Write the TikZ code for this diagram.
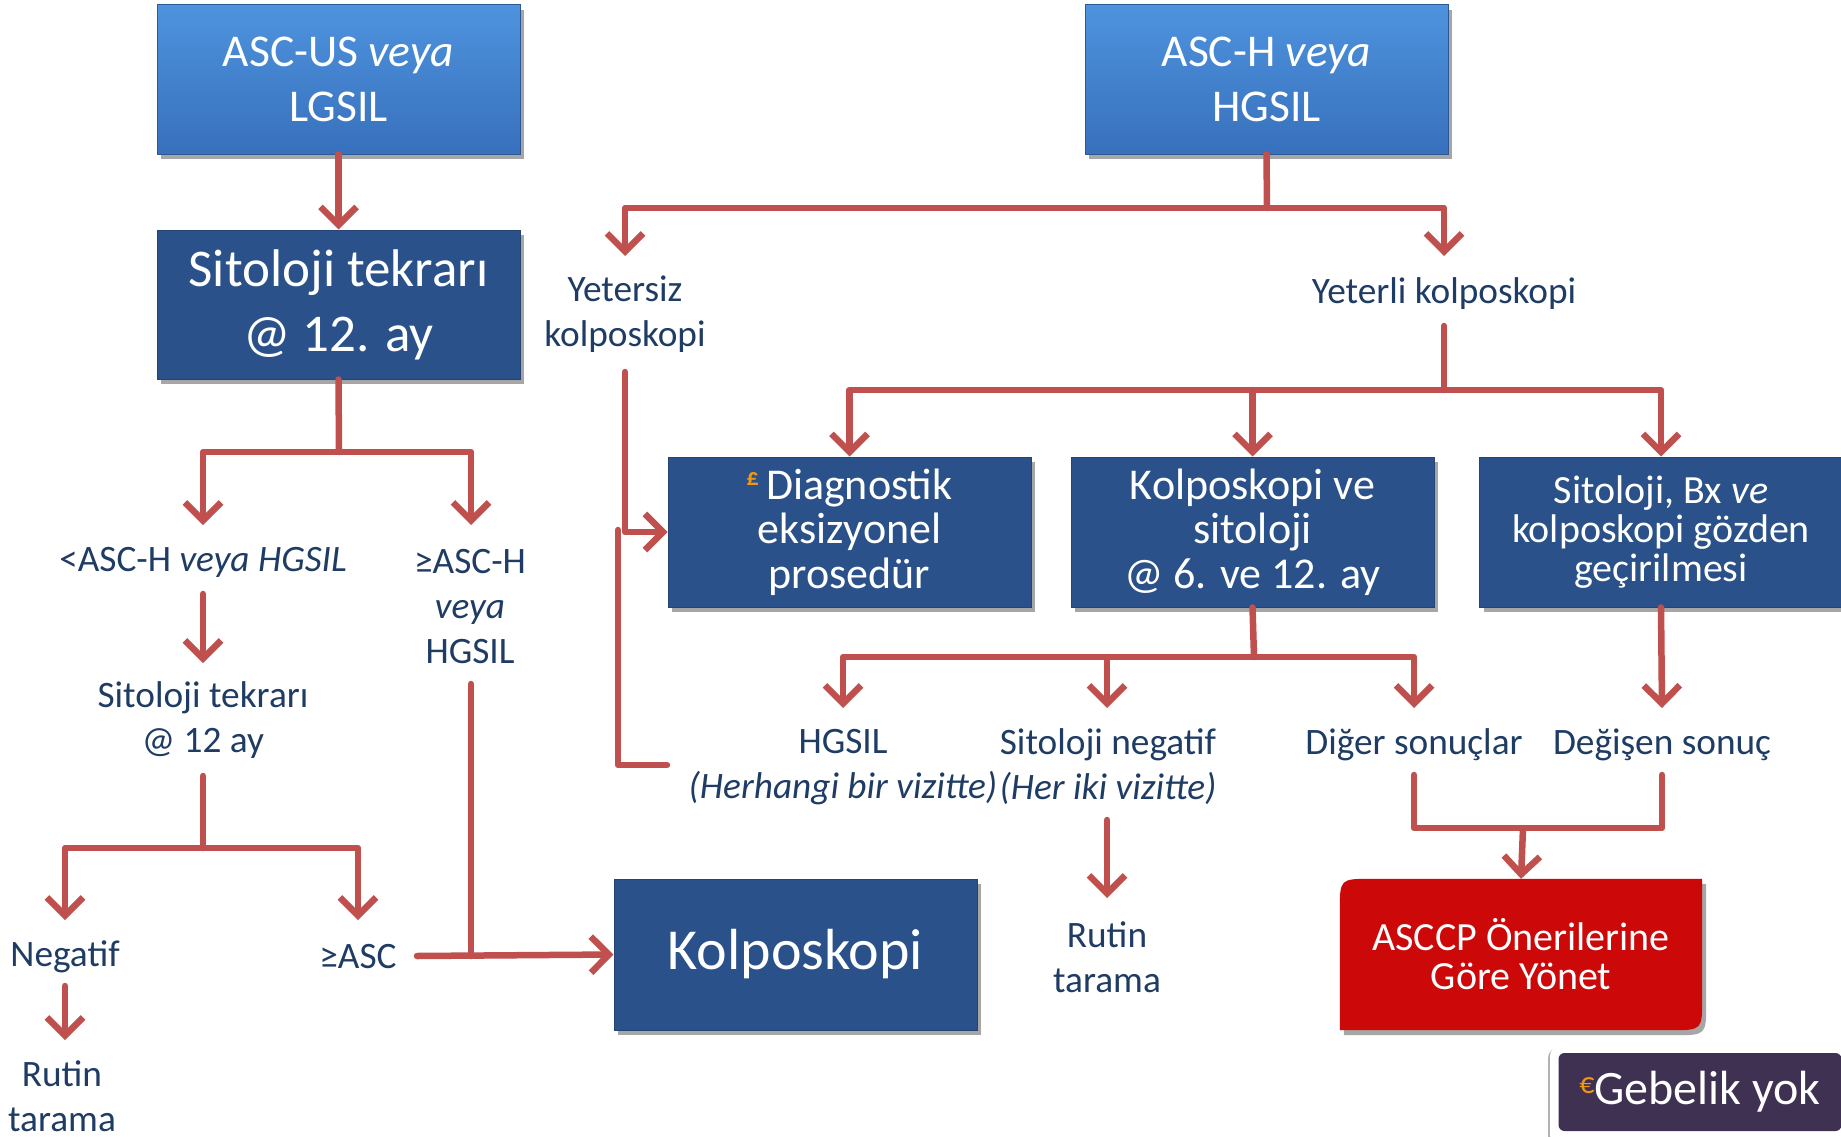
\documentclass[tikz,border=0pt]{standalone}
\usepackage{fontspec}
\setmainfont{Carlito}
\usetikzlibrary{arrows.meta,shadows,backgrounds,calc}

\definecolor{arrowred}{HTML}{C0504D}
\definecolor{navytext}{HTML}{1F3C64}
\definecolor{boxdark}{HTML}{2A5189}
\definecolor{boxlighttop}{HTML}{4E93DE}
\definecolor{boxlightbot}{HTML}{3870BC}
\definecolor{alertred}{HTML}{CC0808}
\definecolor{notepurple}{HTML}{3F3152}
\definecolor{markorange}{HTML}{F0960F}

\tikzset{
  boxshadow/.style={drop shadow={shadow xshift=4pt,shadow yshift=-5pt,opacity=.35,fill=black}},
  lightbox/.style={boxshadow,top color=boxlighttop,bottom color=boxlightbot,
    draw=boxlightbot!80!black,line width=1pt,text=white,align=center,
    minimum width=363pt,minimum height=149pt,inner sep=0pt,
    font=\fontsize{45.5pt}{55pt}\selectfont},
  darkbox/.style={boxshadow,fill=boxdark,draw=boxdark!85!black,line width=1pt,
    text=white,align=center,minimum width=363pt,minimum height=150pt,inner sep=0pt,
    font=\fontsize{44pt}{44.5pt}\selectfont},
  lbl/.style={text=navytext,align=center,inner sep=0pt,
    font=\fontsize{37.3pt}{45pt}\selectfont},
  link/.style={draw=arrowred,line width=6.5pt,line cap=round,line join=round},
  arr/.style={link,-{Straight Barb[length=18pt,width=36pt]}}
}

\begin{document}
\begin{tikzpicture}[x=1pt,y=-1pt]
\useasboundingbox (0,0) rectangle (1841,1137);

% ---- boxes ----
\node[lightbox] (ascus) at (338.5,79.5) {ASC-US \textit{veya}\\LGSIL};
\node[lightbox] (asch)  at (1266.5,79.5) {ASC-H \textit{veya}\\HGSIL};
\node[darkbox,minimum height=149pt,font=\fontsize{53pt}{65pt}\selectfont]
  (sitrep) at (338.5,304.5) {Sitoloji tekrarı\\@ 12. ay};
\node[darkbox] (diag) at (849.5,532)
  {{\fontsize{24pt}{24pt}\selectfont\raisebox{14pt}{\textcolor{markorange}{\bfseries £}}}\,Diagnostik\\eksizyonel\\prosedür};
\node[darkbox] (kvs) at (1252.5,532) {Kolposkopi ve\\sitoloji\\@ 6. ve 12. ay};
\node[darkbox,font=\fontsize{40pt}{39pt}\selectfont] (sbx) at (1661,532)
  {Sitoloji, Bx \textit{ve}\\kolposkopi gözden\\geçirilmesi};
\node[darkbox,minimum height=151pt,font=\fontsize{58pt}{66pt}\selectfont]
  (kolp) at (795.5,954.5) {Kolposkopi};

% red management box with two rounded corners
\node[text=white,align=center,minimum width=362pt,minimum height=151pt,inner sep=0pt,
  font=\fontsize{40pt}{39pt}\selectfont] (asccp) at (1521,954.5)
  {ASCCP Önerilerine\\Göre Yönet};
\begin{pgfonlayer}{background}
\fill[white] (0,0) rectangle (1841,1137);
\fill[alertred,boxshadow]
  ($(asccp.south west)$) -- ($(asccp.north west)+(0,32)$)
  .. controls ($(asccp.north west)$) .. ($(asccp.north west)+(32,0)$)
  -- (asccp.north east) -- ($(asccp.south east)+(0,-32)$)
  .. controls (asccp.south east) .. ($(asccp.south east)+(-32,0)$) -- cycle;
\end{pgfonlayer}

% footnote tag
\fill[white,rounded corners=10pt,drop shadow={shadow xshift=-2pt,shadow yshift=-2pt,opacity=.3,fill=black}]
  (1550,1046) rectangle (1850,1145);
\node[fill=notepurple,rounded corners=6pt,minimum width=283pt,minimum height=78pt,
  text=white,inner sep=0pt,font=\fontsize{48pt}{50pt}\selectfont]
  (note) at (1700,1092) {\raisebox{11pt}{\fontsize{30pt}{30pt}\selectfont\textcolor{markorange}{€}}Gebelik yok};

% ---- labels ----
\node[lbl] (yetersiz) at (625,314) {Yetersiz\\kolposkopi};
\node[lbl] (yeterli)  at (1444,294) {Yeterli kolposkopi};
\node[lbl] (ltasch)   at (203,562) {<ASC-H \textit{veya HGSIL}};
\node[lbl] (geasch)   at (470,607) {≥ASC-H\\\textit{veya}\\HGSIL};
\node[lbl] (sit12)    at (203,720) {Sitoloji tekrarı\\@ 12 ay};
\node[lbl] (negatif)  at (65,957) {Negatif};
\node[lbl] (geasc)    at (358,957) {≥ASC};
\node[lbl] (rutinA)   at (62,1096) {Rutin\\tarama};
\node[lbl] (hgsil)    at (843,767) {HGSIL\\\textit{(Herhangi bir vizitte)}};
\node[lbl] (sitneg)   at (1108,767) {Sitoloji negatif\\\textit{(Her iki vizitte)}};
\node[lbl] (diger)    at (1414,745) {Diğer sonuçlar};
\node[lbl] (degisen)  at (1662,745) {Değişen sonuç};
\node[lbl] (rutinB)   at (1107,957) {Rutin\\tarama};

% ---- junction and end points ----
\coordinate (jASCH)   at (1267,208);
\coordinate (inYetsz) at (625,256);
\coordinate (inYetrl) at (1444,256);
\coordinate (outYetsz) at (625,372);
\coordinate (outYetrl) at (1444,326);
\coordinate (jYetrl)  at (1444,390);
\coordinate (jSit)    at (339,452);
\coordinate (inLt)    at (203,525);
\coordinate (inGe)    at (471,525);
\coordinate (outLt)   at (203,594);
\coordinate (inSit12) at (203,663);
\coordinate (outSit12) at (203,776);
\coordinate (jSit12)  at (203,848);
\coordinate (inNeg)   at (65,920);
\coordinate (inGeasc) at (358,920);
\coordinate (outNeg)  at (65,986);
\coordinate (inRutA)  at (65,1040);
\coordinate (outGeasc) at (417,956);
\coordinate (outGeH)  at (471,684);
\coordinate (mergeGeH) at (471,956);
\coordinate (jKvs)    at (1254,657);
\coordinate (inHgsil) at (843,708);
\coordinate (inSitneg) at (1107,708);
\coordinate (inDiger) at (1414,708);
\coordinate (inDegis) at (1662,708);
\coordinate (outSitneg) at (1107,820);
\coordinate (inRutB)  at (1107,898);
\coordinate (outDiger) at (1414,775);
\coordinate (outDegis) at (1662,775);
\coordinate (jMerge)  at (1523,828);
\coordinate (outHgsil) at (667,765);
\coordinate (loopTop) at (618,530);

% ---- connectors ----
\draw[arr] (ascus.south) -- (sitrep.north);

\draw[link] (asch.south) -- (jASCH);
\draw[arr] (jASCH) -| (inYetsz);
\draw[arr] (jASCH) -| (inYetrl);

\draw[arr] (outYetsz) |- (diag.west);
\draw[link] (outHgsil) -| (loopTop);

\draw[link] (outYetrl) -- (jYetrl);
\draw[arr] (jYetrl) -| (diag.north);
\draw[arr] (jYetrl) -| (sbx.north);
\draw[arr] (kvs.north |- jYetrl) -- (kvs.north);

\draw[link] (sitrep.south) -- (jSit);
\draw[arr] (jSit) -| (inLt);
\draw[arr] (jSit) -| (inGe);
\draw[arr] (outLt) -- (inSit12);

\draw[link] (outSit12) -- (jSit12);
\draw[arr] (jSit12) -| (inNeg);
\draw[arr] (jSit12) -| (inGeasc);
\draw[arr] (outNeg) -- (inRutA);

\draw[link] (outGeH) -- (mergeGeH);
\draw[arr] (outGeasc) -- (kolp.west);

\draw[link] (kvs.south) -- (jKvs);
\draw[arr] (jKvs) -| (inHgsil);
\draw[arr] (jKvs) -| (inDiger);
\draw[arr] (inSitneg |- jKvs) -- (inSitneg);
\draw[arr] (sbx.south) -- (inDegis);
\draw[arr] (outSitneg) -- (inRutB);

\draw[link] (outDiger) |- (outDegis |- jMerge) -- (outDegis);
\draw[arr] (jMerge) -- (asccp.north);
\end{tikzpicture}
\end{document}
